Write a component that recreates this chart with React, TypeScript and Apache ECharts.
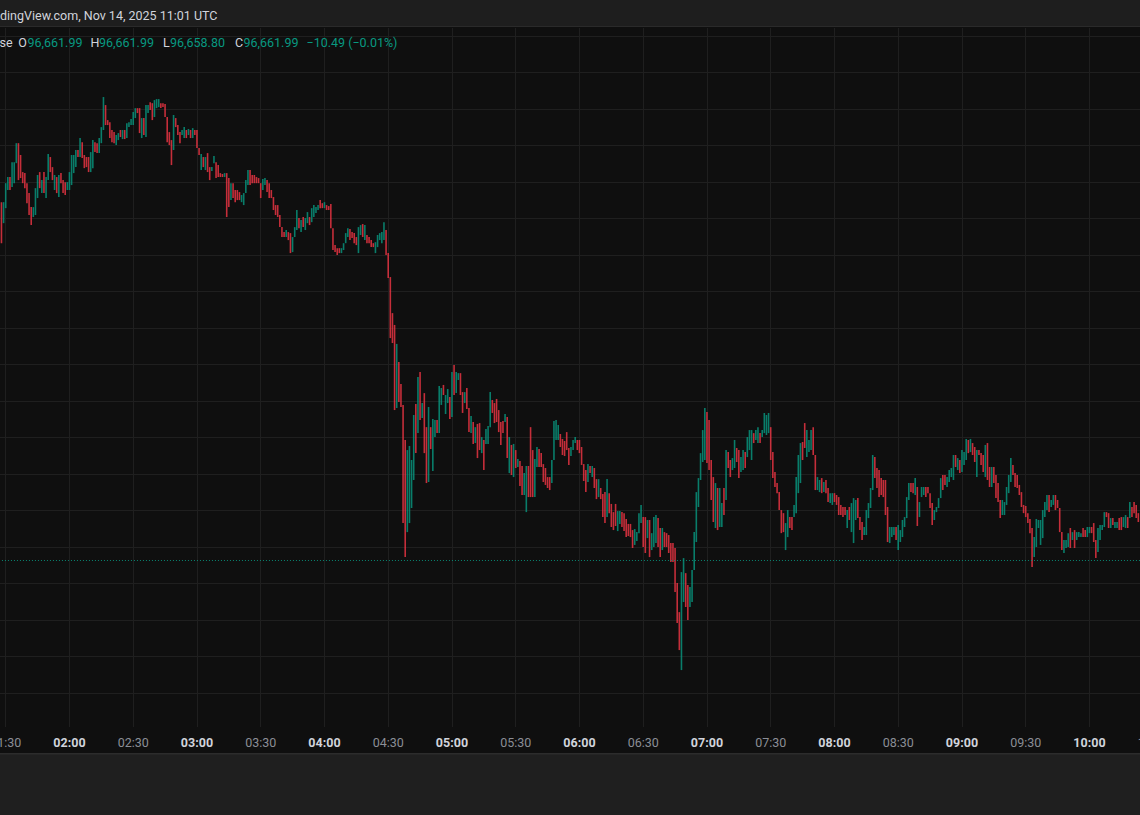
import React, { useEffect, useRef } from "react";
import * as echarts from "echarts";

// 1-minute candles, first candle at 01:28 UTC (minute 88 of the day)
const START_MINUTE = 88;

const opens = [
  99112, 98968, 99071, 99195, 99284, 99215, 99242, 99379, 99516, 99435,
  99318, 99311, 99242, 99174, 99078, 99010, 99024, 99140, 99318, 99174,
  99318, 99140, 99263, 99421, 99352, 99195, 99284, 99147, 99311, 99263,
  99249, 99195, 99195, 99229, 99311, 99352, 99469, 99421, 99523, 99435,
  99421, 99421, 99318, 99345, 99523, 99516, 99448, 99516, 99606, 99777,
  99674, 99660, 99606, 99592, 99503, 99537, 99606, 99544, 99606, 99551,
  99626, 99640, 99640, 99688, 99756, 99756, 99551, 99688, 99558, 99722,
  99797, 99790, 99695, 99756, 99763, 99790, 99790, 99784, 99695, 99592,
  99537, 99469, 99688, 99640, 99592, 99572, 99551, 99606, 99572, 99606,
  99551, 99606, 99606, 99483, 99332, 99421, 99332, 99448, 99352, 99325,
  99379, 99386, 99366, 99311, 99305, 99284, 99311, 99277, 99126, 99242,
  99195, 99195, 99181, 99112, 99092, 99174, 99229, 99332, 99298, 99298,
  99284, 99277, 99242, 99195, 99229, 99263, 99242, 99195, 99147, 99092,
  99092, 99024, 98941, 98907, 98873, 98907, 98900, 98770, 98873, 98921,
  99003, 98907, 99010, 98921, 98968, 99010, 98975, 99010, 99037, 99058,
  99126, 99105, 99071, 99092, 99085, 99099, 98934, 98818, 98797, 98797,
  98763, 98784, 98831, 98873, 98928, 98907, 98900, 98873, 98763, 98887,
  98962, 98852, 98887, 98873, 98852, 98831, 98763, 98804, 98852, 98831,
  98852, 98921, 98763, 98599, 98352, 98271, 97702, 98017, 97867, 97723,
  97483, 96852, 96914, 97017, 97209, 97730, 97530, 97948, 97633, 97804,
  97571, 97195, 97571, 97270, 97503, 97620, 97530, 97723, 97860, 97661,
  97736, 97777, 97640, 97996, 97804, 97894, 97941, 97811, 97736, 97839,
  97702, 97530, 97606, 97462, 97593, 97599, 97393, 97483, 97456, 97456,
  97571, 97757, 97736, 97764, 97688, 97606, 97613, 97606, 97640, 97256,
  97449, 97229, 97414, 97298, 97339, 97305, 97106, 96989, 97305, 97571,
  97414, 97092, 97298, 97421, 97393, 97318, 97291, 97229, 97229, 97188,
  97346, 97483, 97483, 97524, 97490, 97476, 97537, 97428, 97373, 97414,
  97462, 97483, 97483, 97435, 97318, 97277, 97195, 97305, 97229, 97291,
  97215, 97092, 97154, 97113, 97126, 96955, 97119, 97045, 96989, 97045,
  96859, 96908, 96989, 96982, 96942, 96908, 96908, 96866, 96764, 96791,
  96845, 96914, 96955, 96955, 96811, 96935, 96729, 96750, 96777, 96948,
  96880, 96729, 96852, 96845, 96832, 96777, 96777, 96743, 96503, 96304,
  95907, 96373, 96571, 96490, 96339, 96373, 96592, 96784, 97024, 97209,
  97332, 97346, 97675, 97620, 97346, 97229, 96880, 97154, 96887, 96887,
  97154, 97072, 97400, 97346, 97277, 97291, 97428, 97414, 97263, 97277,
  97400, 97366, 97414, 97346, 97530, 97483, 97462, 97530, 97503, 97530,
  97517, 97530, 97571, 97400, 97263, 97188, 97126, 97003, 96982, 96729,
  96818, 96955, 96955, 96955, 96982, 97119, 97188, 97469, 97599, 97366,
  97400, 97414, 97571, 97380, 97140, 97126, 97222, 97126, 97209, 97154,
  97051, 97038, 97119, 97106, 97092, 97038, 97024, 97024, 96880, 97024,
  96852, 96777, 96935, 97085, 96955, 96921, 96832, 96832, 96948, 97017,
  97140, 97366, 97291, 97277, 97222, 97209, 97209, 97024, 96777, 96818,
  96832, 96887, 96729, 96784, 96818, 96887, 96948, 97072, 97188, 97188,
  97106, 97161, 96955, 97092, 97106, 97161, 97161, 97119, 97051, 96935,
  96989, 97017, 97085, 97243, 97243, 97161, 97195, 97229, 97209, 97380,
  97277, 97346, 97263, 97312, 97346, 97483, 97400, 97462, 97435, 97229,
  97414, 97393, 97380, 97229, 97462, 97298, 97161, 97298, 97243, 97188,
  97072, 96969, 96969, 97038, 97119, 97195, 97312, 97256, 97243, 97175,
  97126, 97038, 97031, 96982, 96942, 96880, 96681, 96750, 96880, 96764,
  96811, 96955, 97003, 97106, 97024, 97038, 97106, 97072, 97017, 96852,
  96709, 96743, 96750, 96880, 96798, 96866, 96798, 96818, 96818, 96880,
  96866, 96818, 96845, 96887, 96914, 96798, 96716, 96798, 96866, 96887,
  96989, 96982, 96880, 96948, 96880, 96880, 96948, 96955, 96887, 96880,
  96955, 96948, 97024, 97058, 97038, 96982,
];

const closes = [
  98831, 99112, 99242, 99284, 99195, 99386, 99386, 99516, 99263, 99277,
  99242, 99208, 99105, 99024, 98955, 99078, 99208, 99298, 99208, 99263,
  99174, 99284, 99442, 99318, 99263, 99298, 99174, 99298, 99242, 99174,
  99161, 99249, 99318, 99435, 99435, 99469, 99421, 99551, 99414, 99345,
  99352, 99318, 99455, 99537, 99455, 99448, 99551, 99626, 99832, 99640,
  99640, 99551, 99523, 99516, 99572, 99585, 99558, 99606, 99544, 99653,
  99660, 99681, 99729, 99756, 99722, 99585, 99688, 99572, 99777, 99777,
  99743, 99674, 99811, 99818, 99818, 99756, 99763, 99695, 99523, 99503,
  99366, 99709, 99626, 99572, 99516, 99606, 99626, 99551, 99613, 99551,
  99619, 99572, 99483, 99435, 99442, 99352, 99421, 99318, 99263, 99352,
  99428, 99277, 99284, 99284, 99284, 99311, 99010, 99078, 99242, 99140,
  99112, 99126, 99126, 99161, 99174, 99263, 99332, 99229, 99242, 99242,
  99242, 99242, 99140, 99270, 99277, 99181, 99140, 99140, 99058, 99024,
  99010, 98941, 98873, 98873, 98921, 98852, 98763, 98873, 98941, 99058,
  98934, 98989, 98941, 99003, 99044, 98955, 99071, 99092, 99078, 99092,
  99071, 99071, 99112, 99058, 99058, 98934, 98784, 98770, 98750, 98763,
  98797, 98831, 98900, 98934, 98852, 98866, 98831, 98818, 98941, 98955,
  98873, 98955, 98831, 98831, 98804, 98804, 98838, 98887, 98900, 98907,
  98975, 98750, 98592, 98181, 98147, 97688, 98141, 97743, 97709, 96914,
  96681, 97414, 97442, 97346, 97654, 97393, 97914, 97620, 97736, 97393,
  97188, 97709, 97421, 97627, 97620, 97530, 97853, 97839, 97791, 97791,
  97832, 97627, 97948, 97791, 97948, 97941, 97791, 97668, 97811, 97695,
  97537, 97647, 97456, 97571, 97359, 97414, 97503, 97277, 97558, 97579,
  97811, 97668, 97599, 97606, 97537, 97449, 97530, 97661, 97359, 97503,
  97243, 97456, 97291, 97353, 97168, 97106, 97256, 97305, 97092, 97092,
  97092, 97353, 97435, 97298, 97298, 97195, 97175, 97154, 97140, 97346,
  97613, 97620, 97586, 97435, 97380, 97373, 97414, 97312, 97435, 97483,
  97503, 97414, 97393, 97312, 97202, 97126, 97318, 97256, 97305, 97154,
  97078, 97215, 97078, 96955, 96914, 97215, 96982, 96887, 96866, 96894,
  96996, 96996, 96887, 96859, 96818, 96825, 96818, 96743, 96873, 96852,
  96982, 97038, 96750, 96709, 96935, 96681, 96845, 96955, 96969, 96750,
  96681, 96880, 96750, 96750, 96709, 96647, 96647, 96441, 96229, 96044,
  96578, 96674, 96339, 96250, 96476, 96592, 96852, 97126, 97222, 97393,
  97551, 97702, 97325, 97277, 97072, 96921, 97188, 96866, 97154, 97051,
  96969, 97414, 97291, 97229, 97359, 97483, 97332, 97222, 97366, 97414,
  97291, 97503, 97551, 97551, 97462, 97551, 97571, 97462, 97551, 97668,
  97654, 97668, 97346, 97222, 97161, 97119, 97003, 96845, 96852, 96914,
  97003, 96880, 96866, 97038, 97229, 97380, 97462, 97346, 97428, 97551,
  97483, 97551, 97380, 97140, 97229, 97209, 97119, 97195, 97119, 97058,
  97119, 97119, 97058, 97038, 96969, 96969, 96955, 96969, 97003, 96935,
  97051, 97085, 97072, 96948, 96866, 96798, 96887, 97003, 97051, 97154,
  97380, 97222, 97154, 97092, 97106, 97092, 96969, 96784, 96887, 96887,
  96887, 96798, 96901, 96866, 96935, 96955, 97092, 97188, 97126, 97119,
  97222, 96894, 97058, 97161, 97161, 97092, 97119, 97017, 96901, 97003,
  97024, 97085, 97222, 97140, 97175, 97229, 97277, 97291, 97380, 97298,
  97359, 97256, 97414, 97400, 97490, 97393, 97490, 97380, 97332, 97414,
  97380, 97312, 97263, 97449, 97209, 97161, 97298, 97188, 97085, 97058,
  96948, 97072, 97058, 97161, 97243, 97359, 97243, 97161, 97154, 97106,
  97024, 96982, 96955, 96914, 96845, 96613, 96818, 96942, 96935, 96935,
  97003, 97058, 97106, 96989, 97072, 97106, 97003, 97017, 96852, 96729,
  96798, 96798, 96845, 96743, 96852, 96743, 96852, 96852, 96845, 96818,
  96818, 96887, 96887, 96845, 96784, 96674, 96880, 96901, 96901, 96989,
  96955, 96880, 96948, 96901, 96921, 96921, 96866, 96866, 96955, 96969,
  96880, 97058, 96955, 96982, 96948, 96921,
];

const tickLabels = [
  "01:00", "01:30", "02:00", "02:30", "03:00", "03:30", "04:00", "04:30",
  "05:00", "05:30", "06:00", "06:30", "07:00", "07:30", "08:00", "08:30",
  "09:00", "09:30", "10:00", "10:30",
];

const lastPrice = 96661.99;
const headerText = "dingView.com, Nov 14, 2025 11:01 UTC";
const legendLabels = ["O", "H", "L", "C"];
const legendValues = ["96,661.99", "96,661.99", "96,658.80", "96,661.99"];
const legendChange = "\u221210.49 (\u22120.01%)";

const UP = "#089981";
const DOWN = "#f23645";
const FONT = "Roboto, 'Noto Sans', sans-serif";

export default function App() {
  const ref = useRef<HTMLDivElement>(null);

  useEffect(() => {
    if (!ref.current) return;
    const chart = echarts.init(ref.current, undefined, { renderer: "svg" });

    const data = opens.map((o, i) => [START_MINUTE + i, o, closes[i]]);

    const legendX = [18.3, 90.5, 163, 235];
    const valueX = [27.5, 99, 170, 243.5];
    const legendGraphics: any[] = [];
    legendLabels.forEach((l, i) => {
      legendGraphics.push({
        type: "text", x: legendX[i], y: 42.5, z: 100,
        style: { text: l, fill: "#d1d4dc", fontSize: 12.5, fontFamily: FONT, align: "left", verticalAlign: "middle" },
      });
      legendGraphics.push({
        type: "text", x: valueX[i], y: 42.5, z: 100,
        style: { text: legendValues[i], fill: UP, fontSize: 12.5, fontFamily: FONT, align: "left", verticalAlign: "middle" },
      });
    });

    const gridLeft = -58.05;
    const gridRight = -13.2;

    chart.setOption({
      animation: false,
      backgroundColor: "#0f0f0f",
      textStyle: { fontFamily: FONT },
      grid: [
        { left: gridLeft, right: gridRight, top: 36, bottom: 122, containLabel: false, outerBoundsMode: "none" },
        { left: gridLeft, right: gridRight, top: 28, bottom: 88, containLabel: false, outerBoundsMode: "none" },
      ],
      xAxis: [
        {
          type: "value", gridIndex: 0, min: 60, max: 630, show: false,
          splitLine: { show: false },
        },
        {
          type: "value", gridIndex: 1, min: 60, max: 630, interval: 30,
          axisLine: { show: false },
          axisTick: { show: false },
          splitLine: { show: true, lineStyle: { color: "#1f1f1f", width: 1 } },
          axisLabel: {
            margin: 9,
            hideOverlap: false,
            formatter: (v: number) => {
              const s = tickLabels[Math.round((v - 60) / 30)] ?? "";
              return s.endsWith(":00") ? `{b|${s}}` : `{n|${s}}`;
            },
            rich: {
              b: { fontWeight: "bold", color: "#d1d4dc", fontSize: 12.5, fontFamily: FONT },
              n: { color: "#8b8e96", fontSize: 12.5, fontFamily: FONT },
            },
          },
        },
      ],
      yAxis: [
        {
          type: "value", gridIndex: 0, min: 95750, max: 100250, interval: 250,
          axisLine: { show: false }, axisTick: { show: false }, axisLabel: { show: false },
          splitLine: { show: true, lineStyle: { color: "#1f1f1f", width: 1 } },
        },
        { type: "value", gridIndex: 1, min: 0, max: 1, show: false, splitLine: { show: false } },
      ],
      series: [
        {
          type: "custom",
          xAxisIndex: 0,
          yAxisIndex: 0,
          clip: true,
          encode: { x: 0, y: [1, 2] },
          data,
          renderItem: (params: any, api: any) => {
            const t = api.value(0);
            const o = api.value(1);
            const c = api.value(2);
            const top = api.coord([t, Math.max(o, c)]);
            const bot = api.coord([t, Math.min(o, c)]);
            const w = 1.6;
            return {
              type: "rect",
              shape: { x: top[0] - w / 2, y: top[1], width: w, height: Math.max(bot[1] - top[1], 1) },
              style: { fill: c >= o ? UP : DOWN, opacity: 0.8 },
            };
          },
        },
        {
          type: "line",
          xAxisIndex: 0,
          yAxisIndex: 0,
          data: [],
          silent: true,
          markLine: {
            silent: true,
            symbol: ["none", "none"],
            label: { show: false },
            lineStyle: { color: UP, type: [1, 2], width: 1, opacity: 0.85 },
            data: [{ yAxis: lastPrice }],
          },
        },
      ],
      graphic: [
        { type: "rect", z: 50, silent: true, shape: { x: 0, y: 0, width: 1140, height: 26 }, style: { fill: "#1e1e1e" } },
        { type: "rect", z: 50, silent: true, shape: { x: 0, y: 26, width: 1140, height: 1 }, style: { fill: "#2a2a2a" } },
        { type: "rect", z: 50, silent: true, shape: { x: 0, y: 753, width: 1140, height: 62 }, style: { fill: "#1f1f1f" } },
        { type: "rect", z: 50, silent: true, shape: { x: 0, y: 753, width: 1140, height: 1.5 }, style: { fill: "#2c2c2c" } },
        {
          type: "text", x: 0, y: 15, z: 100,
          style: { text: headerText, fill: "#d1d4dc", fontSize: 12.5, fontFamily: FONT, align: "left", verticalAlign: "middle" },
        },
        {
          type: "text", x: -0.5, y: 42.5, z: 100,
          style: { text: "se", fill: "#d1d4dc", fontSize: 12.5, fontFamily: FONT, align: "left", verticalAlign: "middle" },
        },
        ...legendGraphics,
        {
          type: "text", x: 306.5, y: 42.5, z: 100,
          style: { text: legendChange, fill: UP, fontSize: 12.5, fontFamily: FONT, align: "left", verticalAlign: "middle" },
        },
      ],
    });

    return () => chart.dispose();
  }, []);

  return <div ref={ref} style={{ position: "fixed", left: 0, top: 0, width: 1140, height: 815 }} />;
}
